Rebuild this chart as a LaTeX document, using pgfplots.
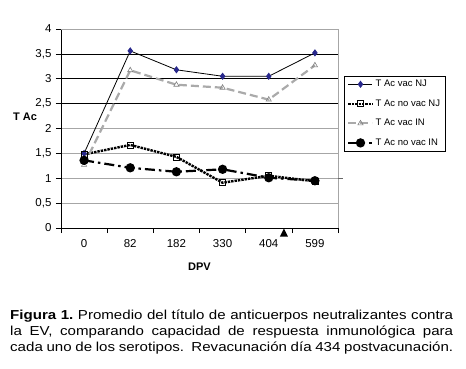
\documentclass[border=0pt]{standalone}
\usepackage{pgfplots}
\pgfplotsset{compat=1.18}
\usepackage{fontspec}
\setmainfont{Liberation Sans}
\newfontfamily\capfont[FakeStretch=1.16]{Liberation Sans}
\definecolor{njblue}{RGB}{40,40,140}
\definecolor{ingray}{RGB}{170,170,170}
\begin{document}
\begin{tikzpicture}
\useasboundingbox (0pt,0pt) rectangle (466pt,368pt);
\begin{axis}[
  at={(61pt,140pt)}, anchor=south west,
  scale only axis, width=277pt, height=199pt,
  xmin=-0.5, xmax=5.5, ymin=0, ymax=4,
  axis x line*=bottom, axis y line*=left,
  axis line style={black, line width=0.6pt},
  xtick={0,1,2,3,4,5},
  xticklabels={0,82,182,330,404,599},
  minor xtick={-0.5,0.5,1.5,2.5,3.5,4.5,5.5},
  major x tick style={draw=none},
  minor x tick style={black, line width=0.6pt},
  minor tick length=5pt,
  ytick={0,0.5,...,4},
  major tick length=5pt,
  tick align=outside,
  y tick style={black, line width=0.6pt},
  ymajorgrids,
  major grid style={gray!70, line width=0.6pt},
  extra y ticks={2.5,3,3.5},
  extra y tick labels={},
  extra y tick style={grid=major, major grid style={black, line width=0.6pt}},
  /pgf/number format/use comma,
  /pgf/number format/assume math mode=true,
  yticklabel style={font=\fontsize{11.5}{12}\selectfont, xshift=-1pt},
  xticklabel style={font=\fontsize{11.5}{12}\selectfont, yshift=-3pt},
  clip=false,
  legend style={at={(1,0.764)}, anchor=north west, xshift=6pt, draw=black, line width=0.6pt,
    font=\fontsize{9.5}{11}\selectfont, row sep=7.5pt, inner xsep=3pt, inner ysep=2pt, cells={anchor=west}},
  legend cell align=left,
  legend image code/.code={\draw[mark repeat=2,mark phase=2] plot coordinates {(0pt,0pt) (12pt,0pt) (24pt,0pt)};},
]
\draw[gray!70, line width=0.6pt] (rel axis cs:0,1) -- (rel axis cs:1,1) -- (rel axis cs:1,0);
\addplot[black, line width=0.8pt, mark=diamond*, mark size=3pt, mark options={solid, fill=njblue, draw=njblue}]
  coordinates {(0,1.50) (1,3.56) (2,3.18) (3,3.05) (4,3.05) (5,3.52)};
\addlegendentry{T Ac vac NJ}
\addplot[black, line width=2.4pt, densely dotted, mark=square, mark size=3pt, mark options={solid, line width=0.7pt, fill=white, draw=black}]
  coordinates {(0,1.48) (1,1.67) (2,1.43) (3,0.91) (4,1.05) (5,0.94)};
\addlegendentry{T Ac no vac NJ}
\addplot[ingray, line width=2.2pt, dash pattern=on 8pt off 4pt, mark=triangle, mark size=3pt, mark options={solid, line width=0.6pt, fill=white, draw=gray}]
  coordinates {(0,1.27) (1,3.17) (2,2.88) (3,2.82) (4,2.58) (5,3.27)};
\addlegendentry{T Ac vac IN}
\addplot[black, line width=2.2pt, dash pattern=on 10pt off 4pt on 2.5pt off 4pt, mark=*, mark size=3.5pt, mark options={solid, fill=black}]
  coordinates {(0,1.36) (1,1.21) (2,1.13) (3,1.18) (4,1.01) (5,0.95)};
\addlegendentry{T Ac no vac IN}
\draw[black!60, line width=0.6pt] (axis cs:5.5,1) -- (axis cs:5.6,1);
\fill[black] (axis cs:4.33,0) ++(0pt,-0.5pt) -- ++(-4pt,-8pt) -- ++(8pt,0pt) -- cycle;
\node[font=\fontsize{11}{12}\selectfont\bfseries] at (rel axis cs:0,0.558) [xshift=-36pt] {T Ac};
\node[font=\fontsize{11}{12}\selectfont\bfseries] at (rel axis cs:0.5,0) [yshift=-39pt] {DPV};
\end{axis}
\node[anchor=north west, text width=443pt, align=justify, inner sep=0pt,
  font=\capfont\fontsize{13}{16}\selectfont] at (10pt,58pt)
  {\hyphenpenalty=10000 \exhyphenpenalty=10000 \frenchspacing \textbf{Figura 1.} Promedio del título de anticuerpos neutralizantes contra\linebreak la EV, comparando capacidad de respuesta inmunológica para\linebreak cada uno de los serotipos.\ \ Revacunación día 434 postvacunación.\par};
\end{tikzpicture}
\end{document}
